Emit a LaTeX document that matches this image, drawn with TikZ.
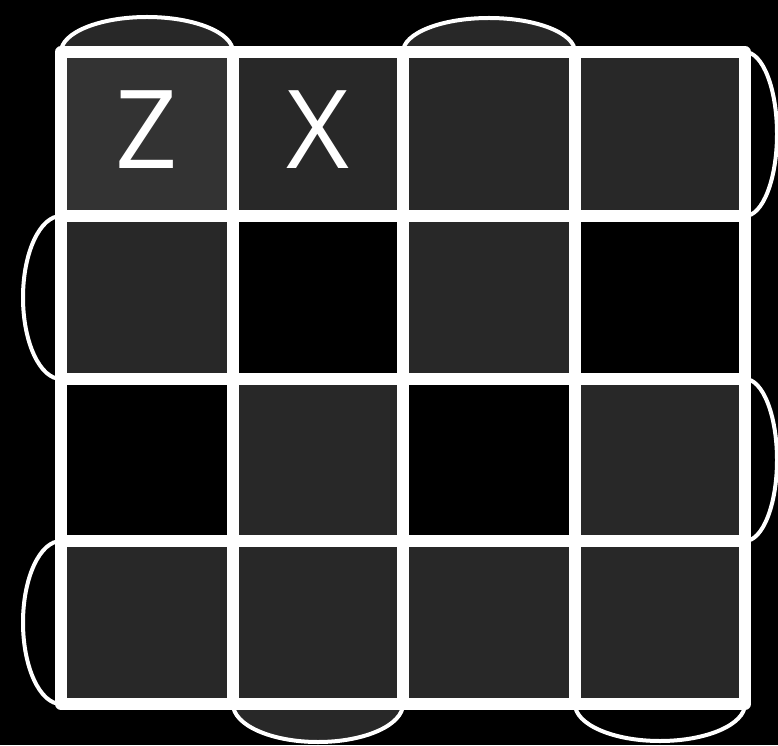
\documentclass[tikz,border=0pt]{standalone}
\usepackage{fontspec}
\setmainfont{Open Sans}
\usepackage{tikz}
\definecolor{cellgray}{RGB}{40,40,40}
\definecolor{cellz}{RGB}{51,51,51}

\begin{document}
\begin{tikzpicture}[x=1pt,y=1pt,
        gridline/.style={draw=white,line width=12pt,line join=round},
        bnd/.style={draw=white,line width=4pt},
        letter/.style={text=white,inner sep=0pt,font=\fontsize{109}{109}\selectfont}]
  \fill[black] (0,0) rectangle (778,745);
  \useasboundingbox (0,0) rectangle (778,745);
  % boundary arcs
  \draw[bnd,fill=cellgray] (61,693) arc[start angle=180,end angle=0,x radius=86,y radius=35];
  \draw[bnd,fill=cellgray] (403,693) arc[start angle=180,end angle=0,x radius=86,y radius=34];
  \draw[bnd,fill=cellgray] (233,41) arc[start angle=180,end angle=360,x radius=85,y radius=38];
  \draw[bnd] (575,41) arc[start angle=180,end angle=360,x radius=85,y radius=37];
  \draw[bnd] (745,693) arc[start angle=90,end angle=-90,x radius=32,y radius=82];
  \draw[bnd] (745,366) arc[start angle=90,end angle=-90,x radius=32,y radius=81];
  \draw[bnd] (61,529) arc[start angle=90,end angle=270,x radius=38,y radius=81.5];
  \draw[bnd] (61,204) arc[start angle=90,end angle=270,x radius=38,y radius=81.5];
  % cells
  \fill[cellgray] (61,41) rectangle (745,693);
  \fill[cellz] (61,529) rectangle (233,693);
  \fill[black] (233,366) rectangle (403,529);
  \fill[black] (575,366) rectangle (745,529);
  \fill[black] (61,204) rectangle (233,366);
  \fill[black] (403,204) rectangle (575,366);
  % grid
  \foreach \x in {233,403,575}
    \draw[gridline] (\x,41) -- (\x,693);
  \foreach \y in {529,366,204}
    \draw[gridline] (61,\y) -- (745,\y);
  \draw[gridline] (61,41) rectangle (745,693);
  % labels
  \node[letter] (z) at (147,615) {Z};
  \node[letter] (x) at (318,615) {X};
\end{tikzpicture}
\end{document}
